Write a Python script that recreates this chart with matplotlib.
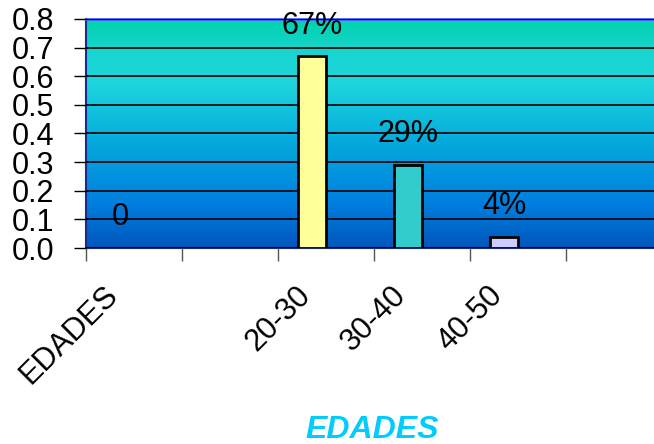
import numpy as np
import matplotlib.pyplot as plt
from matplotlib.colors import LinearSegmentedColormap

plt.rcParams['font.family'] = ['Liberation Sans', 'DejaVu Sans']

# age groups (first slot holds the series title, with a zero value)
categories = ['EDADES', '', '20-30', '30-40', '40-50', '']
shares = [0.0, np.nan, 0.67, 0.29, 0.04, np.nan]
value_labels = ['0', '', '67%', '29%', '4%', '']
bar_colors = ['#FFFF99', '#FFFF99', '#FFFF99', '#33CCCC', '#CCCCFF', '#CCCCFF']

fig = plt.figure(figsize=(6.54, 4.44), dpi=100)
ax = fig.add_axes([86 / 654, 1 - 248 / 444, (662 - 86) / 654, (248 - 19) / 444])

# gradient plot area: deep blue at the bottom to teal at the top
grad = LinearSegmentedColormap.from_list('bg', [
    (0.00, '#0056BC'),
    (0.20, '#0080E0'),
    (0.45, '#04A8DC'),
    (0.72, '#1ED6DE'),
    (0.85, '#1AD4D0'),
    (1.00, '#00D2AE'),
])
ax.imshow(np.linspace(0, 1, 256).reshape(-1, 1), cmap=grad, aspect='auto',
          extent=[-0.5, 5.5, 0, 0.8], origin='lower', zorder=0)

x = np.arange(len(categories))
w = 0.29
pos = x - w / 2
for i in range(len(categories)):
    if np.isnan(shares[i]):
        continue
    if shares[i] > 0:
        ax.bar(pos[i], shares[i], width=w, color=bar_colors[i],
               edgecolor='black', linewidth=2, zorder=3)
    ax.annotate(value_labels[i], (pos[i], shares[i]), xytext=(0, 22),
                textcoords='offset points', ha='center', va='center',
                fontsize=22, zorder=4)

ax.set_xlim(-0.5, 5.5)
ax.set_ylim(0, 0.8)
ax.set_yticks(np.arange(0, 0.81, 0.1))
ax.set_yticklabels([f'{v:.1f}' for v in np.arange(0, 0.81, 0.1)], fontsize=22)
ax.yaxis.grid(True, color='black', linewidth=1.2, zorder=1)
ax.set_axisbelow(False)
ax.grid(False, axis='x')
for line in ax.get_ygridlines():
    line.set_zorder(1)

# category names sit under the bars, rotated; slot boundaries get the tick marks
ax.set_xticks(pos - 0.065)
ax.set_xticklabels(categories, rotation=45, ha='right', va='center',
                   rotation_mode='anchor', fontsize=22)
ax.set_xticks(np.arange(-0.5, 6, 1), minor=True)
ax.tick_params(axis='x', which='major', length=0, pad=31)
ax.tick_params(axis='x', which='minor', length=9, color='#555555', width=1)
ax.tick_params(axis='y', length=9, width=1, pad=14)

ax.spines['top'].set_color('#4060FF')
ax.spines['top'].set_linewidth(2)
ax.spines['left'].set_color('#1a2a90')
ax.spines['left'].set_linewidth(1.5)
ax.spines['bottom'].set_color('#1a2a70')
ax.spines['bottom'].set_linewidth(1.5)
ax.spines['right'].set_visible(False)

fig.text(372 / 654, 1 - 430 / 444, 'EDADES', color='#00CCFF', fontsize=23,
         fontweight='bold', style='italic', ha='center', va='center')

fig.savefig('out.png', dpi=100)
